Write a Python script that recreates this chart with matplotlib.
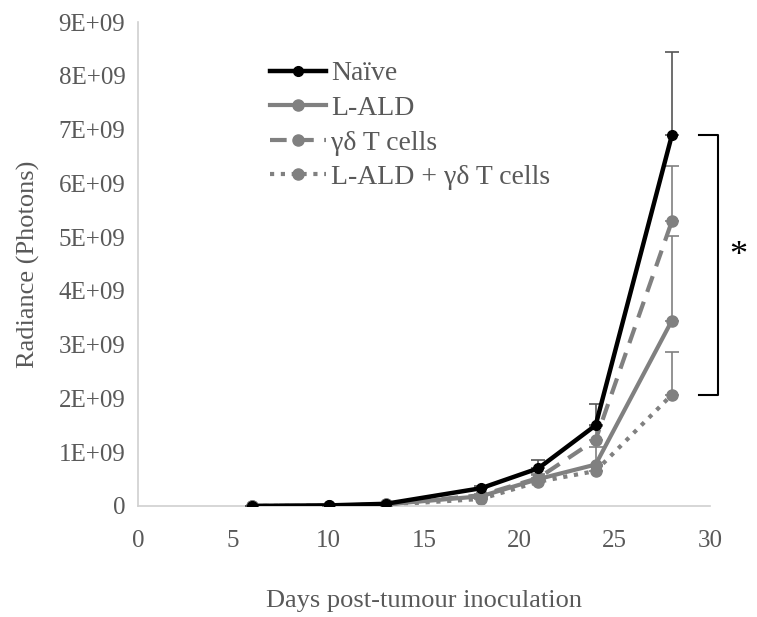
import numpy as np
import matplotlib.pyplot as plt
from matplotlib.ticker import FuncFormatter

days = [6, 10, 13, 18, 21, 24, 28]

naive = [0.0, 0.01e9, 0.04e9, 0.33e9, 0.70e9, 1.50e9, 6.90e9]
naive_err = [0.0, 0.005e9, 0.01e9, 0.05e9, 0.15e9, 0.40e9, 1.55e9]

lald = [0.0, 0.005e9, 0.03e9, 0.18e9, 0.50e9, 0.77e9, 3.45e9]
lald_err = [0.0, 0.0, 0.005e9, 0.03e9, 0.08e9, 0.33e9, 1.57e9]

gd = [0.0, 0.005e9, 0.03e9, 0.20e9, 0.52e9, 1.23e9, 5.30e9]
gd_err = [0.0, 0.0, 0.005e9, 0.03e9, 0.08e9, 0.25e9, 1.02e9]

combo = [0.0, 0.005e9, 0.02e9, 0.13e9, 0.45e9, 0.65e9, 2.07e9]
combo_err = [0.0, 0.0, 0.005e9, 0.02e9, 0.05e9, 0.10e9, 0.80e9]

plt.rcParams['font.family'] = ['Liberation Serif', 'DejaVu Serif']
TXT = '#595959'
GRAY = '#808080'

fig = plt.figure(figsize=(7.57, 6.17), dpi=100)
ax = fig.add_axes([0.182, 0.18, 0.756, 0.784])

zeros = [0] * len(days)
series = [
    (naive, naive_err, 'Naïve', 'black', '-', 3.2, 7, 5),
    (lald, lald_err, 'L-ALD', GRAY, '-', 3, 8, 4),
    (gd, gd_err, 'γδ T cells', GRAY, (0, (4, 2.5)), 3, 8, 3),
    (combo, combo_err, 'L-ALD + γδ T cells', GRAY, (0, (1, 1.6)), 3, 8, 2),
]
handles = []
for vals, err, name, col, ls, lw, ms, z in series:
    ecol = '#555555' if col == 'black' else col
    ax.errorbar(days, vals, yerr=[zeros, err], fmt='none', ecolor=ecol,
                elinewidth=1.2, capsize=5, capthick=1.2, zorder=z)
    h, = ax.plot(days, vals, color=col, lw=lw, ls=ls, marker='o', ms=ms,
                 label=name, zorder=z)
    handles.append(h)

ax.set_xlim(0, 30)
ax.set_ylim(0, 9e9)
ax.set_xticks(range(0, 31, 5))
ax.set_yticks(np.arange(0, 9.1e9, 1e9))


def sci(v, pos):
    if v == 0:
        return '0'
    return f'{v / 1e9:.0f}E+09'


ax.yaxis.set_major_formatter(FuncFormatter(sci))
ax.tick_params(axis='y', length=0, labelsize=18, colors=TXT, pad=9)
ax.tick_params(axis='x', length=0, labelsize=18, colors=TXT, pad=17)
for s in ['top', 'right']:
    ax.spines[s].set_visible(False)
for s in ['left', 'bottom']:
    ax.spines[s].set_color('#d0d0d0')
    ax.spines[s].set_linewidth(1.2)

ax.set_xlabel('Days post-tumour inoculation', fontsize=19, color=TXT, labelpad=28)
ax.set_ylabel('Radiance (Photons)', fontsize=19, color=TXT, labelpad=13)

leg = ax.legend(handles=handles, loc='upper left', bbox_to_anchor=(0.231, 0.92),
                frameon=False, fontsize=20, handlelength=2.0, handletextpad=0.2,
                labelspacing=0.33, labelcolor=TXT, borderpad=0, borderaxespad=0)

# significance bracket
bx0, bx1 = 29.4, 30.4
ax.plot([bx0, bx1, bx1, bx0], [naive[-1], naive[-1], combo[-1], combo[-1]],
        color='black', lw=1.5, clip_on=False)
ax.text(31.5, (naive[-1] + combo[-1]) / 2 + 0.15e9, '*', fontsize=26, ha='center',
        va='center', color='black', clip_on=False)

fig.savefig('out.png', dpi=100)
